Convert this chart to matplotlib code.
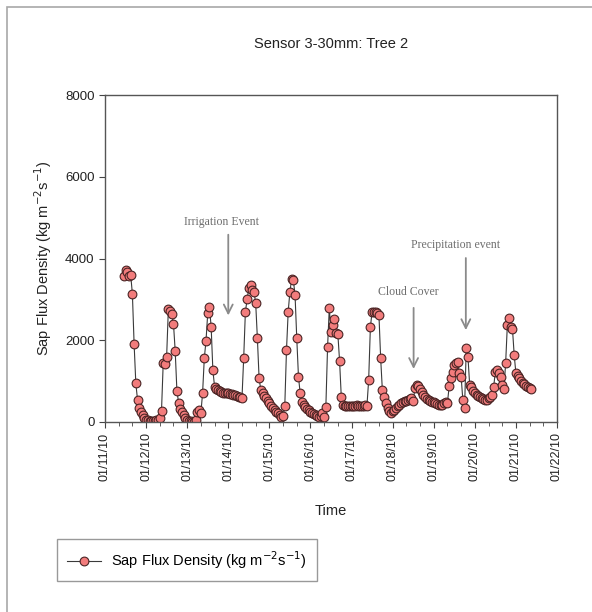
import numpy as np
import pandas as pd
import matplotlib
matplotlib.use('Agg')
import matplotlib.pyplot as plt
import matplotlib.dates as mdates
from matplotlib.patches import Rectangle

# hourly sap flux readings, one list per day (first day starts at 11:00)
jan11 = [3580, 3720, 3680, 3560, 3600, 3130, 1910, 950, 540, 340, 250, 170, 100]
jan12 = [60, 40, 30, 20, 20, 30, 40, 60, 100, 270, 1440, 1420, 1600, 2760, 2720, 2640, 2400, 1740, 760, 470, 320, 250, 170, 100]
jan13 = [50, 30, 20, 10, 10, 60, 250, 290, 220, 710, 1560, 1990, 2660, 2820, 2330, 1270, 860, 800, 780, 760, 740, 720, 710, 700]
jan14 = [700, 690, 680, 660, 650, 640, 620, 600, 580, 1560, 2700, 3000, 3290, 3350, 3230, 3180, 2920, 2050, 1070, 780, 700, 640, 580, 520]
jan15 = [460, 400, 340, 290, 250, 210, 170, 130, 140, 380, 1760, 2700, 3190, 3490, 3470, 3110, 2050, 1110, 700, 500, 420, 375, 330, 290]
jan16 = [250, 220, 190, 170, 150, 130, 140, 210, 130, 375, 1840, 2780, 2210, 2370, 2510, 2170, 2150, 1500, 620, 420, 400, 390, 390, 380]
jan17 = [400, 390, 400, 410, 400, 390, 390, 400, 410, 400, 1030, 2320, 2700, 2700, 2680, 2660, 2620, 1560, 780, 620, 460, 340, 260, 210]
jan18 = [260, 300, 340, 380, 420, 460, 500, 510, 520, 540, 560, 580, 510, 820, 900, 870, 800, 740, 660, 600, 560, 540, 520, 500]
jan19 = [480, 460, 440, 420, 410, 420, 460, 500, 460, 870, 1070, 1230, 1390, 1440, 1480, 1190, 1110, 540, 340, 1800, 1590, 900, 850, 770]
jan20 = [700, 670, 640, 610, 580, 560, 540, 550, 580, 620, 660, 860, 1230, 1270, 1190, 1110, 910, 800, 1440, 2370, 2540, 2330, 2270, 1640]
jan21 = [1190, 1130, 1070, 1000, 960, 920, 880, 850, 820, 800]

flux = jan11 + jan12 + jan13 + jan14 + jan15 + jan16 + jan17 + jan18 + jan19 + jan20 + jan21
times = pd.date_range('2010-01-11 11:00', periods=len(flux), freq='h')

# annotations: (text, text time, text y, arrow time, arrow top, arrow tip)
notes = [
    ('Irrigation Event', '2010-01-13 20:00', 4900, '2010-01-14 00:00', 4650, 2540),
    ('Cloud Cover', '2010-01-18 09:00', 3170, '2010-01-18 12:15', 2860, 1230),
    ('Precipitation event', '2010-01-19 13:00', 4340, '2010-01-19 18:45', 4080, 2180),
]

plt.rcParams['font.family'] = ['Liberation Sans', 'DejaVu Sans']

fig = plt.figure(figsize=(5.92, 6.12), dpi=100)
ax = fig.add_axes([105 / 592, 1 - 422 / 612, 452 / 592, 327 / 612])

# light frame around the whole figure (runs off the right and bottom)
fig.patches.append(Rectangle((7 / 592, -0.1), 1.2, 1 - 7 / 612 + 0.1,
                             transform=fig.transFigure, fill=False,
                             edgecolor='#a8a8a8', lw=1.2))

ax.plot(times, flux, color='#3a3a3a', lw=0.8, marker='o', ms=6.3,
        mfc='#f27c7c', mec='#4a2424', mew=0.8,
        label='Sap Flux Density (kg m$^{-2}$s$^{-1}$)')

ax.set_xlim(pd.Timestamp('2010-01-11'), pd.Timestamp('2010-01-22'))
ax.set_ylim(0, 8000)
ax.set_yticks([0, 2000, 4000, 6000, 8000])
ax.xaxis.set_major_locator(mdates.DayLocator())
ax.xaxis.set_major_formatter(mdates.DateFormatter('%m/%d/%y'))
ax.xaxis.set_minor_locator(mdates.HourLocator(byhour=[8, 16]))
ax.tick_params(axis='both', which='major', direction='out', length=4,
               color='#444444', labelcolor='#222222')
ax.tick_params(axis='y', labelsize=9.5)
ax.tick_params(axis='x', labelsize=9)
ax.tick_params(axis='x', which='minor', direction='out', length=3, color='#444444')
plt.setp(ax.get_xticklabels(), rotation=90)
for s in ax.spines.values():
    s.set_color('#555555')
    s.set_linewidth(1.0)

ax.set_xlabel('Time', fontsize=10.5, color='#222222', labelpad=16)
ax.set_ylabel('Sap Flux Density (kg m$^{-2}$s$^{-1}$)', fontsize=10.5,
              color='#222222', labelpad=8)
ax.set_title('Sensor 3-30mm: Tree 2', fontsize=10.5, color='#222222', pad=34)

for label, tx, ty, axt, top, tip in notes:
    ax.text(pd.Timestamp(tx), ty, label, ha='center', va='center',
            fontsize=8.5, color='#6e6e6e', family='Liberation Serif')
    ax.annotate('', xy=(pd.Timestamp(axt), tip), xytext=(pd.Timestamp(axt), top),
                arrowprops=dict(arrowstyle='->', color='#8a8a8a', lw=1.3,
                                mutation_scale=16))

leg = fig.legend(loc='upper left', bbox_to_anchor=(57 / 592, 1 - 539 / 612),
                 fontsize=10.5, frameon=True, fancybox=False, borderpad=0.7,
                 handlelength=2.3, handletextpad=0.7, borderaxespad=0)
leg.get_frame().set_edgecolor('#808080')
leg.get_frame().set_linewidth(1.0)

fig.savefig('out.png', dpi=100)
